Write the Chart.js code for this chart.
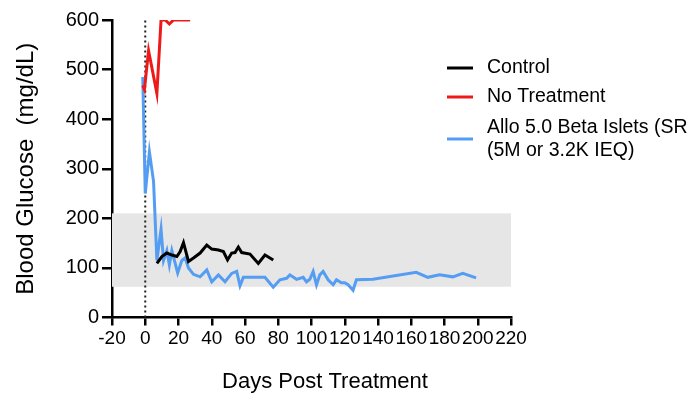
<!DOCTYPE html>
<html>
<head>
<meta charset="utf-8">
<script src="https://cdn.jsdelivr.net/npm/chart.js@4"></script>
<style>
  html, body { margin: 0; padding: 0; background: #fff; overflow: hidden; }
  #wrap { position: relative; width: 687px; height: 400px; }
</style>
</head>
<body>
<div id="wrap"><canvas id="c" width="687" height="400"></canvas></div>
<script>
// ---- data ----
const controlDays    = [7, 10, 13, 16, 19, 21, 23, 26, 29, 33, 37, 40, 44, 47, 49.5, 52, 54, 56, 58, 63, 68, 72, 75, 77];
const controlGlucose = [109, 123, 130, 126, 123, 133, 151, 113, 120, 130, 146, 138, 136, 133, 116, 130, 131, 142, 131, 128, 109, 126, 120, 116];

const noTreatDays    = [-1.5, -0.5, 2, 7, 9.5, 12, 14.5, 17, 27];
const noTreatGlucose = [468, 460, 538, 452, 600, 600, 592, 600, 600];

const alloDays    = [-1.5, 0, 2.5, 5, 7, 9.5, 11, 13, 14.5, 16, 19.5, 22, 24, 26, 29, 33, 37, 40, 44, 48, 52, 55, 57, 59, 72, 77, 81, 85, 87, 91, 95, 97, 99, 101, 103, 105, 107, 110, 113, 115, 118, 120, 122, 125, 127, 137, 163, 170, 177, 185, 191, 199];
const alloGlucose = [485, 250, 334, 274, 115, 178, 115, 135, 106, 135, 90, 115, 120, 100, 87, 82, 96, 72, 86, 72, 89, 93, 64, 81, 81, 61, 76, 79, 86, 77, 81, 72, 77, 93, 66, 86, 93, 76, 66, 76, 70, 70, 66, 55, 76, 77, 91, 81, 86, 82, 89, 80];

const normalRange = [62, 210];          // shaded glycemic band
const treatmentDay = 0;                 // dotted reference line

const seriesLabels = ['Control', 'No Treatment', ['Allo 5.0 Beta Islets (SR)', '(5M or 3.2K IEQ)']];
const xTitle = 'Days Post Treatment';
const yTitle = 'Blood Glucose  (mg/dL)';
const xTickRange = [-20, 220, 20];
const yTickRange = [0, 600, 100];

// ---- build ----
const toXY = (xs, ys) => xs.map((x, i) => ({ x: x, y: ys[i] }));
const FONT = '"Liberation Sans", Arial, sans-serif';

const bandPlugin = {
  id: 'band',
  beforeDatasetsDraw(chart) {
    const { ctx, scales: { x, y } } = chart;
    const top = y.getPixelForValue(normalRange[1]);
    const bot = y.getPixelForValue(normalRange[0]);
    ctx.save();
    ctx.fillStyle = '#e6e6e6';
    ctx.fillRect(x.left, top, x.right - x.left, bot - top);
    ctx.restore();
  }
};

const textPlugin = {
  id: 'customText',
  afterDraw(chart) {
    const { ctx } = chart;
    const rows = [
      { ds: 0, lineY: 68, textY: [68] },
      { ds: 1, lineY: 97, textY: [97] },
      { ds: 2, lineY: 139, textY: [128, 151] }
    ];
    ctx.save();
    ctx.font = '19.5px ' + FONT;
    ctx.textBaseline = 'middle';
    ctx.textAlign = 'left';
    ctx.fillStyle = '#000';
    rows.forEach(r => {
      const ds = chart.data.datasets[r.ds];
      ctx.strokeStyle = ds.borderColor;
      ctx.lineWidth = 3;
      ctx.beginPath();
      ctx.moveTo(447, r.lineY);
      ctx.lineTo(473, r.lineY);
      ctx.stroke();
      const lines = Array.isArray(ds.label) ? ds.label : [ds.label];
      lines.forEach((t, i) => ctx.fillText(t, 487, r.textY[i]));
    });
    // x-axis title
    ctx.font = '22px ' + FONT;
    ctx.textAlign = 'center';
    ctx.fillText(xTitle, 325, 382);
    ctx.restore();
  }
};

new Chart(document.getElementById('c'), {
  type: 'line',
  data: {
    datasets: [
      { label: seriesLabels[0], data: toXY(controlDays, controlGlucose), borderColor: '#000000', borderWidth: 3, pointRadius: 0, tension: 0, order: 1 },
      { label: seriesLabels[1], data: toXY(noTreatDays, noTreatGlucose), borderColor: '#ee1a1a', borderWidth: 3, pointRadius: 0, tension: 0, order: 2 },
      { label: seriesLabels[2], data: toXY(alloDays, alloGlucose), borderColor: '#559df2', borderWidth: 3, pointRadius: 0, tension: 0, order: 3 },
      { label: 'treatment', data: [{ x: treatmentDay, y: yTickRange[0] }, { x: treatmentDay, y: yTickRange[1] }], borderColor: '#222', borderWidth: 2, borderDash: [2, 3], pointRadius: 0, order: 4 }
    ]
  },
  options: {
    responsive: false,
    animation: false,
    layout: { padding: { top: 20, right: 176, left: 0, bottom: 0 } },
    plugins: { legend: { display: false }, tooltip: { enabled: false } },
    scales: {
      x: {
        type: 'linear',
        min: xTickRange[0], max: xTickRange[1],
        ticks: { stepSize: xTickRange[2], color: '#000', font: { family: FONT, size: 19 }, padding: 2, maxRotation: 0, autoSkip: false },
        grid: { display: true, drawOnChartArea: false, drawTicks: true, tickLength: 8, color: '#000', lineWidth: 2.5 },
        border: { display: true, color: '#000', width: 2.5 },
        title: { display: false },
        afterFit(s) { s.height = 82.5; }
      },
      y: {
        type: 'linear',
        min: yTickRange[0], max: yTickRange[1],
        ticks: { stepSize: yTickRange[2], color: '#000', font: { family: FONT, size: 20 }, padding: 3 },
        grid: { display: true, drawOnChartArea: false, drawTicks: true, tickLength: 10, color: '#000', lineWidth: 2.5 },
        border: { display: true, color: '#000', width: 2.5 },
        title: { display: true, text: yTitle, color: '#000', font: { family: FONT, size: 24 }, padding: { top: 12, bottom: 0 } },
        afterFit(s) { s.width = 112; }
      }
    }
  },
  plugins: [bandPlugin, textPlugin]
});
</script>
</body>
</html>
